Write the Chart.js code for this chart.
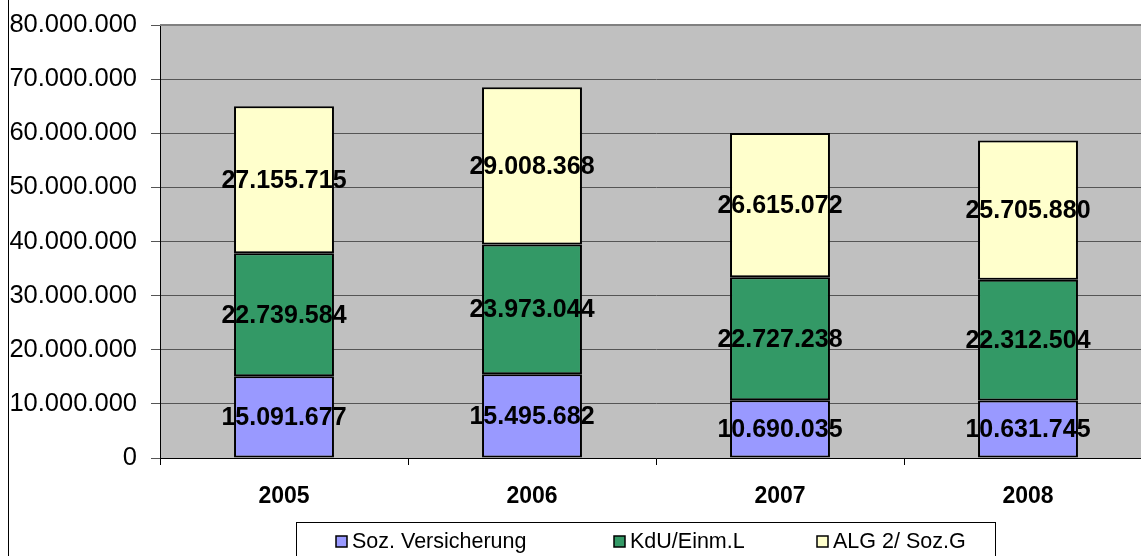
<!DOCTYPE html>
<html>
<head>
<meta charset="utf-8">
<script src="https://cdn.jsdelivr.net/npm/chart.js@4"></script>
<style>
html,body{margin:0;padding:0;background:#fff;overflow:hidden;width:1141px;height:556px;}
canvas{display:block;}
</style>
</head>
<body>
<canvas id="c" width="1160" height="556" style="width:1160px;height:556px"></canvas>
<script>
const categories = ['2005', '2006', '2007', '2008'];
const sozVersicherung = [15091677, 15495682, 10690035, 10631745];
const kduEinmL = [22739584, 23973044, 22727238, 22312504];
const alg2SozG = [27155715, 29008368, 26615072, 25705880];
const seriesNames = ['Soz. Versicherung', 'KdU/Einm.L', 'ALG 2/ Soz.G'];
const seriesColors = ['#9999FF', '#339966', '#FFFFCC'];
const yTickLabels = ['0', '10.000.000', '20.000.000', '30.000.000', '40.000.000', '50.000.000', '60.000.000', '70.000.000', '80.000.000'];

const FONT = '"Liberation Sans", Arial, sans-serif';

function fmt(v) {
  return String(Math.round(v)).replace(/\B(?=(\d{3})+(?!\d))/g, '.');
}

const bgPlugin = {
  id: 'bg',
  beforeDraw(chart) {
    const ctx = chart.ctx, a = chart.chartArea;
    ctx.save();
    ctx.fillStyle = '#C0C0C0';
    ctx.fillRect(a.left, a.top, a.right - a.left, a.bottom - a.top);
    ctx.strokeStyle = '#000';
    ctx.lineWidth = 1;
    ctx.beginPath();
    ctx.moveTo(8.5, 0);
    ctx.lineTo(8.5, 556);
    ctx.stroke();
    ctx.restore();
  },
  afterDraw(chart) {
    const ctx = chart.ctx, a = chart.chartArea;
    ctx.save();
    ctx.strokeStyle = '#808080';
    ctx.lineWidth = 2;
    ctx.beginPath();
    ctx.moveTo(a.left, a.top);
    ctx.lineTo(a.right, a.top);
    ctx.stroke();
    ctx.restore();
  }
};

const labelPlugin = {
  id: 'dl',
  afterDatasetsDraw(chart) {
    const ctx = chart.ctx;
    ctx.save();
    ctx.font = 'bold 25px ' + FONT;
    ctx.fillStyle = '#000';
    ctx.textAlign = 'center';
    ctx.textBaseline = 'middle';
    chart.data.datasets.forEach((ds, di) => {
      const meta = chart.getDatasetMeta(di);
      meta.data.forEach((el, i) => {
        const y = (el.y + el.base) / 2;
        ctx.fillText(fmt(ds.data[i]), el.x, y + 1);
      });
    });
    ctx.restore();
  }
};

const legendPlugin = {
  id: 'customLegend',
  afterDraw(chart) {
    const ctx = chart.ctx;
    ctx.save();
    const bx = 296, by = 522, bw = 699, bh = 40;
    ctx.strokeStyle = '#000';
    ctx.lineWidth = 1;
    ctx.strokeRect(bx + 0.5, by + 0.5, bw, bh);
    ctx.font = '21.5px ' + FONT;
    ctx.textBaseline = 'middle';
    ctx.textAlign = 'left';
    const starts = [336, 614, 817];
    const cy = 542;
    chart.data.datasets.forEach((ds, i) => {
      const x = starts[i];
      ctx.fillStyle = ds.backgroundColor;
      ctx.fillRect(x, cy - 6, 11, 11);
      ctx.strokeStyle = '#000';
      ctx.lineWidth = 1.5;
      ctx.strokeRect(x, cy - 6, 11, 11);
      ctx.fillStyle = '#000';
      ctx.fillText(ds.label, x + 16, cy);
    });
    ctx.restore();
  }
};

const datasets = [sozVersicherung, kduEinmL, alg2SozG].map((d, i) => ({
  label: seriesNames[i],
  data: d,
  backgroundColor: seriesColors[i],
  borderColor: '#000',
  borderWidth: 2,
  borderSkipped: false,
  categoryPercentage: 1,
  barPercentage: 0.403
}));

new Chart(document.getElementById('c'), {
  type: 'bar',
  data: { labels: categories, datasets },
  options: {
    responsive: false,
    animation: false,
    layout: { padding: { top: 25, right: 8, left: 0, bottom: 0 } },
    plugins: { legend: { display: false }, tooltip: { enabled: false } },
    scales: {
      x: {
        stacked: true,
        afterFit(s) { s.height = 98; s.paddingLeft = 0; s.paddingRight = 0; },
        grid: { display: true, drawOnChartArea: false, drawTicks: true, tickLength: 7, color: '#000', offset: true },
        border: { display: true, color: '#000', width: 1 },
        ticks: { color: '#000', font: { family: FONT, size: 23, weight: 'bold' }, padding: 18, maxRotation: 0 }
      },
      y: {
        stacked: true,
        min: 0,
        max: 80000000,
        afterFit(s) { s.width = 160; s.paddingTop = 0; s.paddingBottom = 0; },
        grid: { color: '#555', lineWidth: 1, tickLength: 9, drawTicks: true },
        border: { display: true, color: '#000', width: 1 },
        ticks: {
          stepSize: 10000000,
          color: '#000',
          padding: 14,
          font: { family: FONT, size: 25.5 },
          callback: (v, i) => yTickLabels[i]
        }
      }
    }
  },
  plugins: [bgPlugin, labelPlugin, legendPlugin]
});
</script>
</body>
</html>
